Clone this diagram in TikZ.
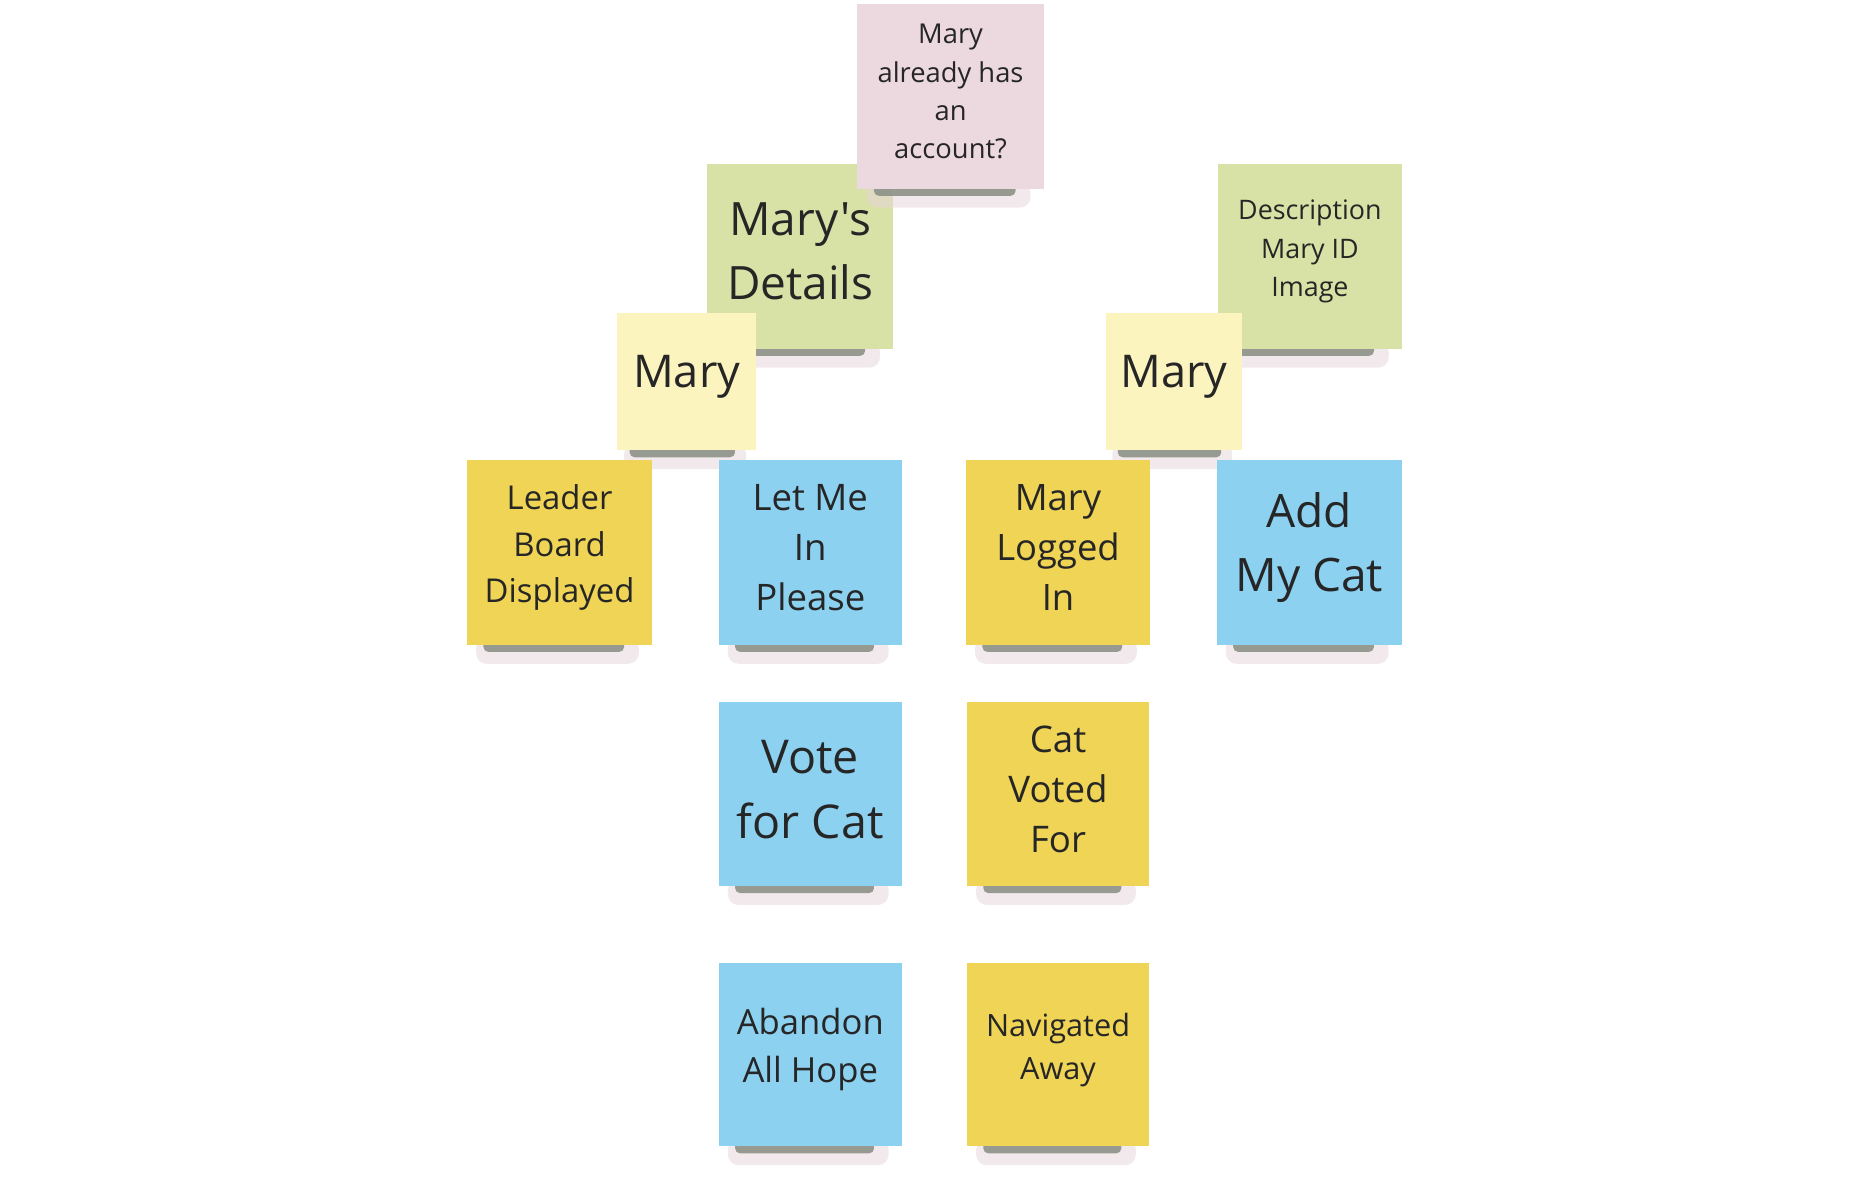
\documentclass[tikz,border=0pt]{standalone}
\usepackage{fontspec}
\setmainfont{Open Sans}[Ligatures=TeXOff]
\definecolor{cpink}{HTML}{ECD9E0}
\definecolor{cgreen}{HTML}{D9E2A6}
\definecolor{clight}{HTML}{FBF4BE}
\definecolor{cyellow}{HTML}{EFD456}
\definecolor{cblue}{HTML}{8CD1F0}
\definecolor{ctext}{HTML}{262626}
\definecolor{cshadow}{HTML}{8E9288}
\definecolor{cfringe}{HTML}{E6D4DD}
\tikzset{
  note/.style={rectangle, inner sep=0pt},
  notetext/.style={inner sep=0pt, align=center, text=ctext},
}
\newcommand\stickynote[9]{%
  \fill[cfringe, opacity=0.5, rounded corners=9pt] ({#2+0.05*#4},{#3+#5-6}) rectangle ({#2+0.93*#4},{#3+#5+16});
  \fill[cshadow, opacity=0.9, rounded corners=4pt] ({#2+0.09*#4},{#3+#5-6}) rectangle ({#2+0.85*#4},{#3+#5+6});
  \node[note, fill=#6, minimum width=#4pt, minimum height=#5pt, anchor=north west] (#1) at (#2,#3) {};
  \node[notetext, font=\fontsize{#7}{#8}\selectfont] (#1-text) at ([yshift=4pt]#1.center) {#9};
}
\begin{document}
\begin{tikzpicture}[x=1pt,y=-1pt]
\fill[white] (0,0) rectangle (1568,989);
\useasboundingbox (0,0) rectangle (1568,989);
\stickynote{greenL}{592}{137}{156}{155}{cgreen}{38.5}{54}{Mary's\\Details}
\stickynote{greenR}{1020}{137}{154}{155}{cgreen}{22.5}{32}{Description\\Mary ID\\Image}
\stickynote{question}{718}{3}{156}{155}{cpink}{22.9}{32}{Mary\\already has\\an\\account?}
\stickynote{maryL}{517}{262}{116}{115}{clight}{37.8}{54}{Mary}
\stickynote{maryR}{926}{262}{114}{115}{clight}{37.8}{54}{Mary}
\stickynote{leader}{391}{385}{155}{155}{cyellow}{27.5}{39}{Leader\\Board\\Displayed}
\stickynote{letme}{602}{385}{153}{155}{cblue}{30.6}{42}{Let Me\\In\\Please}
\stickynote{logged}{809}{385}{154}{155}{cyellow}{30.5}{42}{Mary\\Logged\\In}
\stickynote{addcat}{1019}{385}{155}{155}{cblue}{38.6}{54}{Add\\My Cat}
\stickynote{vote}{602}{588}{153}{154}{cblue}{39}{54}{Vote\\for Cat}
\stickynote{voted}{810}{588}{152}{154}{cyellow}{30.7}{42}{Cat\\Voted\\For}
\stickynote{abandon}{602}{806}{153}{154}{cblue}{29}{40}{Abandon\\All Hope}
\stickynote{navigated}{810}{806}{152}{154}{cyellow}{25.7}{36}{Navigated\\Away}
\end{tikzpicture}
\end{document}
